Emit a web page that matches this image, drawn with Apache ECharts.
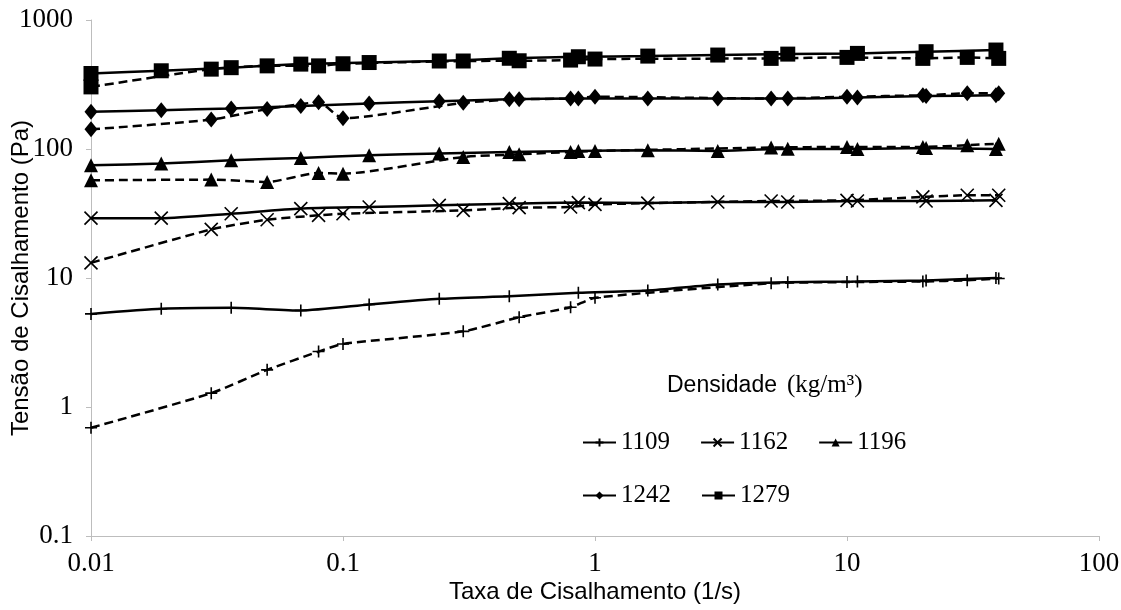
<!DOCTYPE html>
<html>
<head>
<meta charset="utf-8">
<script src="https://cdn.jsdelivr.net/npm/echarts@6/dist/echarts.min.js"></script>
<style>
  html, body { margin: 0; padding: 0; background: #fff; }
  #chart { width: 1121px; height: 610px; }
</style>
</head>
<body>
<div id="chart"></div>
<script>
// shear rates (1/s) for the two measurement sets
const solidX = [0.01, 0.019, 0.036, 0.068, 0.127, 0.241, 0.457, 0.859, 1.62, 3.07, 5.82, 11.0, 20.6, 39.0];
const dashX  = [0.01, 0.03, 0.05, 0.08, 0.1, 0.3, 0.5, 0.8, 1, 5, 10, 20, 30, 40];

// shear stress (Pa), solid lines
const s1109 = [5.27, 5.77, 5.87, 5.60, 6.23, 6.89, 7.22, 7.68, 8.0, 8.91, 9.28, 9.39, 9.57, 10.0];
const s1162 = [29.1, 29.1, 31.5, 34.5, 35.5, 36.6, 37.7, 38.4, 38.1, 38.8, 38.8, 39.5, 39.5, 40.0];
const s1196 = [74.8, 77.1, 81.8, 85.2, 89.4, 92.2, 94.9, 96.6, 97.8, 96.6, 100.4, 100, 101.7, 100];
const s1242 = [194, 200, 206, 215, 225, 235, 243, 246, 246, 246, 246, 251, 257, 261];
const s1279 = [385, 404, 427, 455, 468, 481, 505, 519, 525, 535, 544, 551, 568, 585];

// shear stress (Pa), dashed lines
const d1109 = [0.69, 1.28, 1.94, 2.69, 3.08, 3.86, 4.96, 5.93, 7.02, 9.1, 9.3, 9.4, 9.6, 9.9];
const d1162 = [13.1, 23.8, 28.3, 30.6, 31.5, 33.4, 35.1, 35.5, 37.2, 39.5, 40.0, 42.5, 43.8, 43.8];
const d1196 = [57.2, 57.9, 55.5, 65.2, 64.4, 86.7, 91.0, 94.9, 96.6, 102.6, 103.8, 103.8, 107, 110];
const d1242 = [142, 169, 204, 230, 173, 228, 243, 246, 254, 246, 254, 261, 270, 270];
const d1279 = [303, 416, 441, 441, 458, 481, 483, 489, 498, 504, 513, 504, 513, 504];

const legendRow1 = ["1109", "1162", "1196"];
const legendRow2 = ["1242", "1279"];

const PLUS = "path://M6,0L6,12M0,6L12,6";
const CROSS = "path://M0,0L12,12M12,0L0,12";

const fmt = v => String(parseFloat(v.toPrecision(6)));

function mk(name, xs, ys, symbol, size, dashed) {
  const stroked = symbol.startsWith("path://");
  return {
    type: "line",
    name: name,
    data: xs.map((x, i) => [x, ys[i]]),
    symbol: symbol,
    symbolSize: size,
    smooth: 0.2,
    z: dashed ? 2 : 3,
    lineStyle: { color: "#000", width: 2.5, type: dashed ? [9, 5] : "solid" },
    itemStyle: { color: "#000", borderColor: "#000", borderWidth: stroked ? 1.6 : 0 }
  };
}

const chart = echarts.init(document.getElementById("chart"));

const axisCommon = {
  type: "log",
  logBase: 10,
  nameLocation: "middle",
  nameMoveOverlap: false,
  nameTextStyle: { fontFamily: "Liberation Sans", fontSize: 24, color: "#000" },
  axisLine: { show: true, lineStyle: { color: "#bdbdbd", width: 1 } },
  axisTick: { show: true, inside: false, length: 5, lineStyle: { color: "#bdbdbd" } },
  minorTick: { show: false },
  splitLine: { show: false },
  axisLabel: { fontFamily: "Liberation Serif", fontSize: 27, color: "#000", formatter: fmt }
};

chart.setOption({
  animation: false,
  backgroundColor: "#fff",
  grid: { left: 91, right: 22, top: 20, bottom: 74, containLabel: false, outerBoundsMode: "none" },
  xAxis: Object.assign({}, axisCommon, {
    min: 0.01, max: 100,
    name: "Taxa de Cisalhamento (1/s)",
    nameGap: 44,
    axisLabel: Object.assign({}, axisCommon.axisLabel, { margin: 14 })
  }),
  yAxis: Object.assign({}, axisCommon, {
    min: 0.1, max: 1000,
    name: "Tensão de Cisalhamento (Pa)",
    nameGap: 58,
    axisLabel: Object.assign({}, axisCommon.axisLabel, { margin: 18 })
  }),
  title: {
    text: "{a|Densidade}  {b|(kg/m³)}",
    left: 662, top: 368,
    textStyle: {
      fontWeight: "normal",
      rich: {
        a: { fontFamily: "Liberation Sans", fontSize: 23, fontWeight: "normal", color: "#000" },
        b: { fontFamily: "Liberation Serif", fontSize: 25, fontWeight: "normal", color: "#000" }
      }
    }
  },
  legend: [
    {
      data: legendRow1, left: 577, top: 425, itemWidth: 33, itemHeight: 10, itemGap: 30,
      textStyle: { fontFamily: "Liberation Serif", fontSize: 25, color: "#000" }
    },
    {
      data: legendRow2, left: 577, top: 478, itemWidth: 33, itemHeight: 10, itemGap: 30,
      textStyle: { fontFamily: "Liberation Serif", fontSize: 25, color: "#000" }
    }
  ],
  series: [
    mk("1109", solidX, s1109, PLUS, 12, false),
    mk("1162", solidX, s1162, CROSS, 13, false),
    mk("1196", solidX, s1196, "triangle", 14, false),
    mk("1242", solidX, s1242, "diamond", [13, 16], false),
    mk("1279", solidX, s1279, "rect", 15, false),
    mk("1109d", dashX, d1109, PLUS, 12, true),
    mk("1162d", dashX, d1162, CROSS, 13, true),
    mk("1196d", dashX, d1196, "triangle", 14, true),
    mk("1242d", dashX, d1242, "diamond", [13, 16], true),
    mk("1279d", dashX, d1279, "rect", 15, true)
  ]
});
</script>
</body>
</html>
